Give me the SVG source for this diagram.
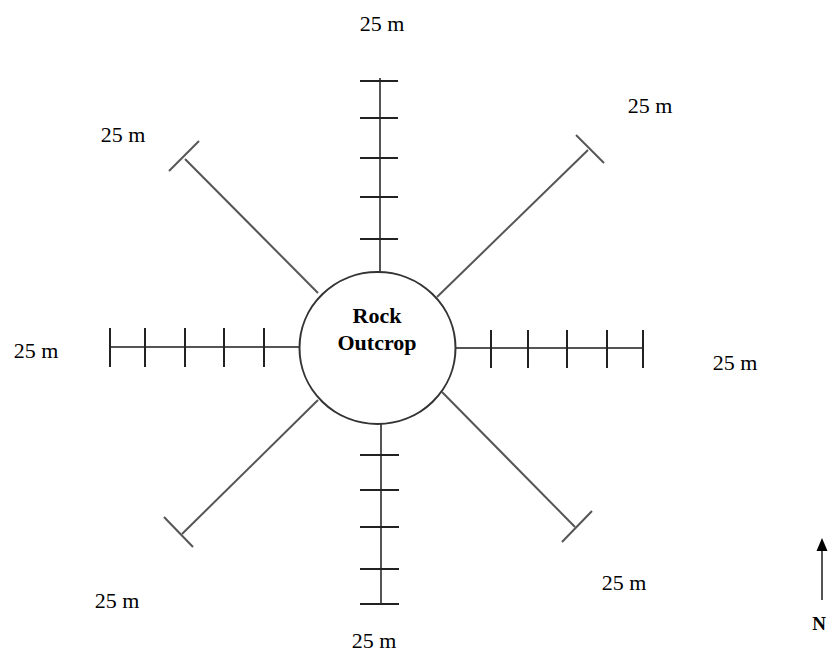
<svg xmlns="http://www.w3.org/2000/svg" width="833" height="656" viewBox="0 0 833 656">
<style>
.ln{stroke:#555;stroke-width:2;fill:none;stroke-linecap:butt}
.tk{stroke:#222;stroke-width:2;fill:none}
.lb{font-family:"Liberation Serif","Times New Roman",serif;font-size:22px;fill:#000}
.bd{font-family:"Liberation Serif","Times New Roman",serif;font-size:22px;font-weight:bold;fill:#000}
</style>
<rect width="833" height="656" fill="#fff"/>
<g id="connectors">
<line class="ln" x1="380" y1="78" x2="380" y2="272"/>
<line class="tk" x1="360" y1="81" x2="398" y2="81"/>
<line class="tk" x1="360" y1="118" x2="398" y2="118"/>
<line class="tk" x1="360" y1="158" x2="398" y2="158"/>
<line class="tk" x1="360" y1="197" x2="398" y2="197"/>
<line class="tk" x1="360" y1="239" x2="398" y2="239"/>
<line class="ln" x1="381" y1="424" x2="381" y2="604"/>
<line class="tk" x1="360" y1="455" x2="399" y2="455"/>
<line class="tk" x1="360" y1="490" x2="399" y2="490"/>
<line class="tk" x1="360" y1="527" x2="399" y2="527"/>
<line class="tk" x1="360" y1="569" x2="399" y2="569"/>
<line class="tk" x1="360" y1="604" x2="399" y2="604"/>
<line class="ln" x1="110" y1="347" x2="299" y2="347"/>
<line class="tk" x1="110" y1="328" x2="110" y2="367"/>
<line class="tk" x1="145" y1="328" x2="145" y2="367"/>
<line class="tk" x1="185" y1="328" x2="185" y2="367"/>
<line class="tk" x1="224" y1="328" x2="224" y2="367"/>
<line class="tk" x1="264" y1="328" x2="264" y2="367"/>
<line class="ln" x1="456" y1="348" x2="643" y2="348"/>
<line class="tk" x1="491" y1="330" x2="491" y2="368"/>
<line class="tk" x1="528" y1="330" x2="528" y2="368"/>
<line class="tk" x1="567" y1="330" x2="567" y2="368"/>
<line class="tk" x1="607" y1="330" x2="607" y2="368"/>
<line class="tk" x1="643" y1="330" x2="643" y2="368"/>
<line class="ln" x1="185" y1="159" x2="318" y2="293"/>
<line class="ln" x1="169" y1="171" x2="199" y2="141"/>
<line class="ln" x1="588" y1="150" x2="437" y2="297"/>
<line class="ln" x1="576" y1="135" x2="604" y2="163"/>
<line class="ln" x1="442" y1="392" x2="575" y2="527"/>
<line class="ln" x1="562" y1="542" x2="592" y2="511"/>
<line class="ln" x1="318" y1="400" x2="182" y2="534"/>
<line class="ln" x1="164" y1="517" x2="193" y2="547"/>
</g>
<g id="rock">
<ellipse cx="377.5" cy="348" rx="78" ry="76" fill="#fff" stroke="#333" stroke-width="2"/>
<text class="bd" x="377" y="323" text-anchor="middle">Rock</text>
<text class="bd" x="377" y="350" text-anchor="middle">Outcrop</text>
</g>
<g id="labels">
<text class="lb" x="382" y="31" text-anchor="middle">25 m</text>
<text class="lb" x="123" y="142" text-anchor="middle">25 m</text>
<text class="lb" x="650" y="113" text-anchor="middle">25 m</text>
<text class="lb" x="36" y="358" text-anchor="middle">25 m</text>
<text class="lb" x="735" y="370" text-anchor="middle">25 m</text>
<text class="lb" x="117" y="608" text-anchor="middle">25 m</text>
<text class="lb" x="624" y="590" text-anchor="middle">25 m</text>
<text class="lb" x="374" y="648" text-anchor="middle">25 m</text>
</g>
<g id="north">
<line x1="822" y1="548" x2="822" y2="600" stroke="#555" stroke-width="2"/>
<polygon points="822,538 816.5,551 827.5,551" fill="#000"/>
<text class="bd" x="819" y="630" text-anchor="middle" style="font-size:19px">N</text>
</g>
</svg>
